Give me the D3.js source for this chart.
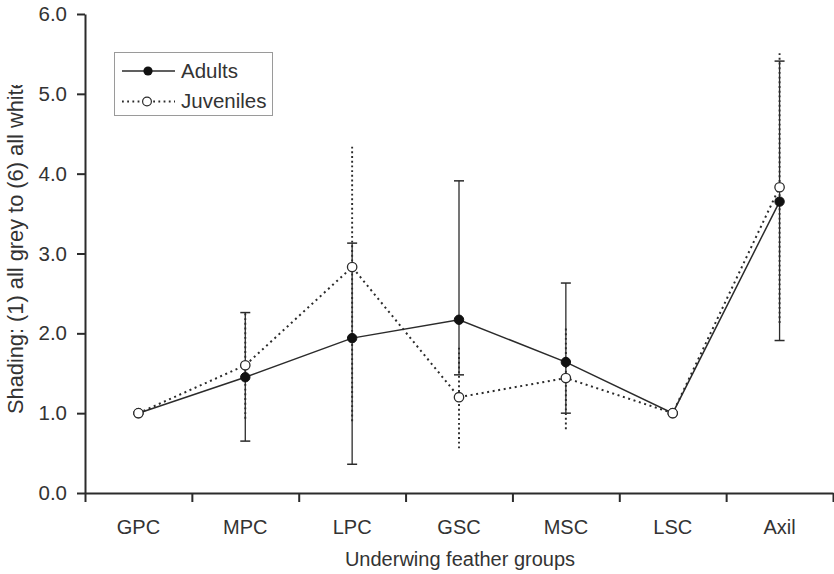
<!DOCTYPE html>
<html><head><meta charset="utf-8">
<script src="https://cdn.jsdelivr.net/npm/d3@7"></script>
<style>
html,body{margin:0;padding:0;background:#fff;}
svg text{font-family:"Liberation Sans",Arial,sans-serif;fill:#333;}
</style></head>
<body><svg id="c" width="834" height="574"></svg>
<script>
const categories = ["GPC","MPC","LPC","GSC","MSC","LSC","Axil"];
const adults      = [1.00, 1.45, 1.94, 2.17, 1.64, 1.00, 3.65];
const adultsUpper = [1.00, 2.26, 3.13, 3.91, 2.63, 1.00, 5.41];
const adultsLower = [1.00, 0.65, 0.36, 1.48, 1.00, 1.00, 1.91];
const juveniles      = [1.00, 1.60, 2.83, 1.20, 1.44, 1.00, 3.83];
const juvenilesUpper = [1.00, 2.28, 4.34, 1.84, 2.08, 1.00, 5.53];
const juvenilesLower = [1.00, 0.93, 0.90, 0.56, 0.80, 1.00, 2.13];
const yTicks = [0,1,2,3,4,5,6];
const xTitle = "Underwing feather groups";
const yTitle = "Shading: (1) all grey to (6) all white";
const seriesNames = ["Adults","Juveniles"];

const svg = d3.select("#c");
const ink = "#2b2b2b";
const x = d3.scaleBand().domain(categories).range([85,833]).paddingInner(0).paddingOuter(0);
const xb = d3.scaleLinear().domain([0,categories.length]).range([85,833]);
const y = d3.scaleLinear().domain([0,6]).range([493,14]);
const cx = c => x(c) + x.bandwidth()/2;

// Y axis
const gy = svg.append("g").attr("transform","translate(85,0)")
  .call(d3.axisLeft(y).tickValues(yTicks).tickFormat(d3.format(".1f")).tickSize(8).tickPadding(10).tickSizeOuter(0));
gy.select(".domain").attr("stroke",ink).attr("stroke-width",2);
gy.selectAll(".tick line").attr("stroke",ink).attr("stroke-width",2);
gy.selectAll(".tick text").attr("font-size",20.5).style("fill","#333");

// X axis tick marks at band boundaries
const gx = svg.append("g").attr("transform","translate(0,493)")
  .call(d3.axisBottom(xb).tickValues(d3.range(categories.length+1)).tickFormat("").tickSize(9).tickSizeOuter(0));
gx.select(".domain").attr("stroke",ink).attr("stroke-width",2);
gx.selectAll(".tick line").attr("stroke",ink).attr("stroke-width",2);
// X labels
const gxl = svg.append("g").attr("transform","translate(0,493)")
  .call(d3.axisBottom(x).tickSize(0).tickPadding(27));
gxl.select(".domain").remove();
gxl.selectAll(".tick text").attr("font-size",20).style("fill","#333");

// Titles
svg.append("text").attr("x",460).attr("y",566).attr("text-anchor","middle")
  .attr("font-size",20).text(xTitle);
svg.append("clipPath").attr("id","yclip").append("rect").attr("x",0).attr("y",85).attr("width",60).attr("height",480);
svg.append("g").attr("clip-path","url(#yclip)")
  .append("text").attr("transform","translate(23,414) rotate(-90)").attr("text-anchor","start")
  .attr("font-size",21.8).text(yTitle);

// Error bars
function errBars(vals, lo, hi, dashed, caps){
  const g = svg.append("g");
  categories.forEach((c,i)=>{
    if (hi[i]===lo[i]) return;
    g.append("line").attr("x1",cx(c)).attr("x2",cx(c)).attr("y1",y(lo[i])).attr("y2",y(hi[i]))
      .attr("stroke",ink).attr("stroke-width",dashed?1.9:1.3)
      .attr("stroke-dasharray",dashed?"1.9,2.8":null);
    if (caps){
      [lo[i],hi[i]].forEach(v=>{
        g.append("line").attr("x1",cx(c)-5).attr("x2",cx(c)+5).attr("y1",y(v)).attr("y2",y(v))
          .attr("stroke",ink).attr("stroke-width",1.5);
      });
    }
  });
}
errBars(adults, adultsLower, adultsUpper, false, true);
errBars(juveniles, juvenilesLower, juvenilesUpper, true, false);

// Lines
const line = d3.line().x((d,i)=>cx(categories[i])).y(d=>y(d));
svg.append("path").datum(adults).attr("d",line).attr("fill","none").attr("stroke",ink).attr("stroke-width",1.5);
svg.append("path").datum(juveniles).attr("d",line).attr("fill","none").attr("stroke",ink)
  .attr("stroke-width",2).attr("stroke-dasharray","2,3.6");

// Markers
svg.append("g").selectAll("circle").data(adults).join("circle")
  .attr("cx",(d,i)=>cx(categories[i])).attr("cy",d=>y(d)).attr("r",4.7)
  .attr("fill","#111").attr("stroke","#111").attr("stroke-width",1);
svg.append("g").selectAll("circle").data(juveniles).join("circle")
  .attr("cx",(d,i)=>cx(categories[i])).attr("cy",d=>y(d)).attr("r",4.7)
  .attr("fill","#fff").attr("stroke",ink).attr("stroke-width",1.3);

// Legend
const lg = svg.append("g");
lg.append("rect").attr("x",114.5).attr("y",52.5).attr("width",158).attr("height",63)
  .attr("fill","#fff").attr("stroke","#9a9a9a").attr("stroke-width",1);
lg.append("line").attr("x1",122).attr("x2",175).attr("y1",71).attr("y2",71).attr("stroke",ink).attr("stroke-width",1.5);
lg.append("circle").attr("cx",148).attr("cy",71).attr("r",4.6).attr("fill","#111");
lg.append("text").attr("x",181).attr("y",78).attr("font-size",20.5).text(seriesNames[0]);
lg.append("line").attr("x1",122).attr("x2",175).attr("y1",101.5).attr("y2",101.5).attr("stroke",ink)
  .attr("stroke-width",1.8).attr("stroke-dasharray","1.8,3.4");
lg.append("circle").attr("cx",147).attr("cy",101.5).attr("r",4.4).attr("fill","#fff").attr("stroke",ink).attr("stroke-width",1.2);
lg.append("text").attr("x",181).attr("y",108).attr("font-size",20.5).text(seriesNames[1]);
</script></body></html>
